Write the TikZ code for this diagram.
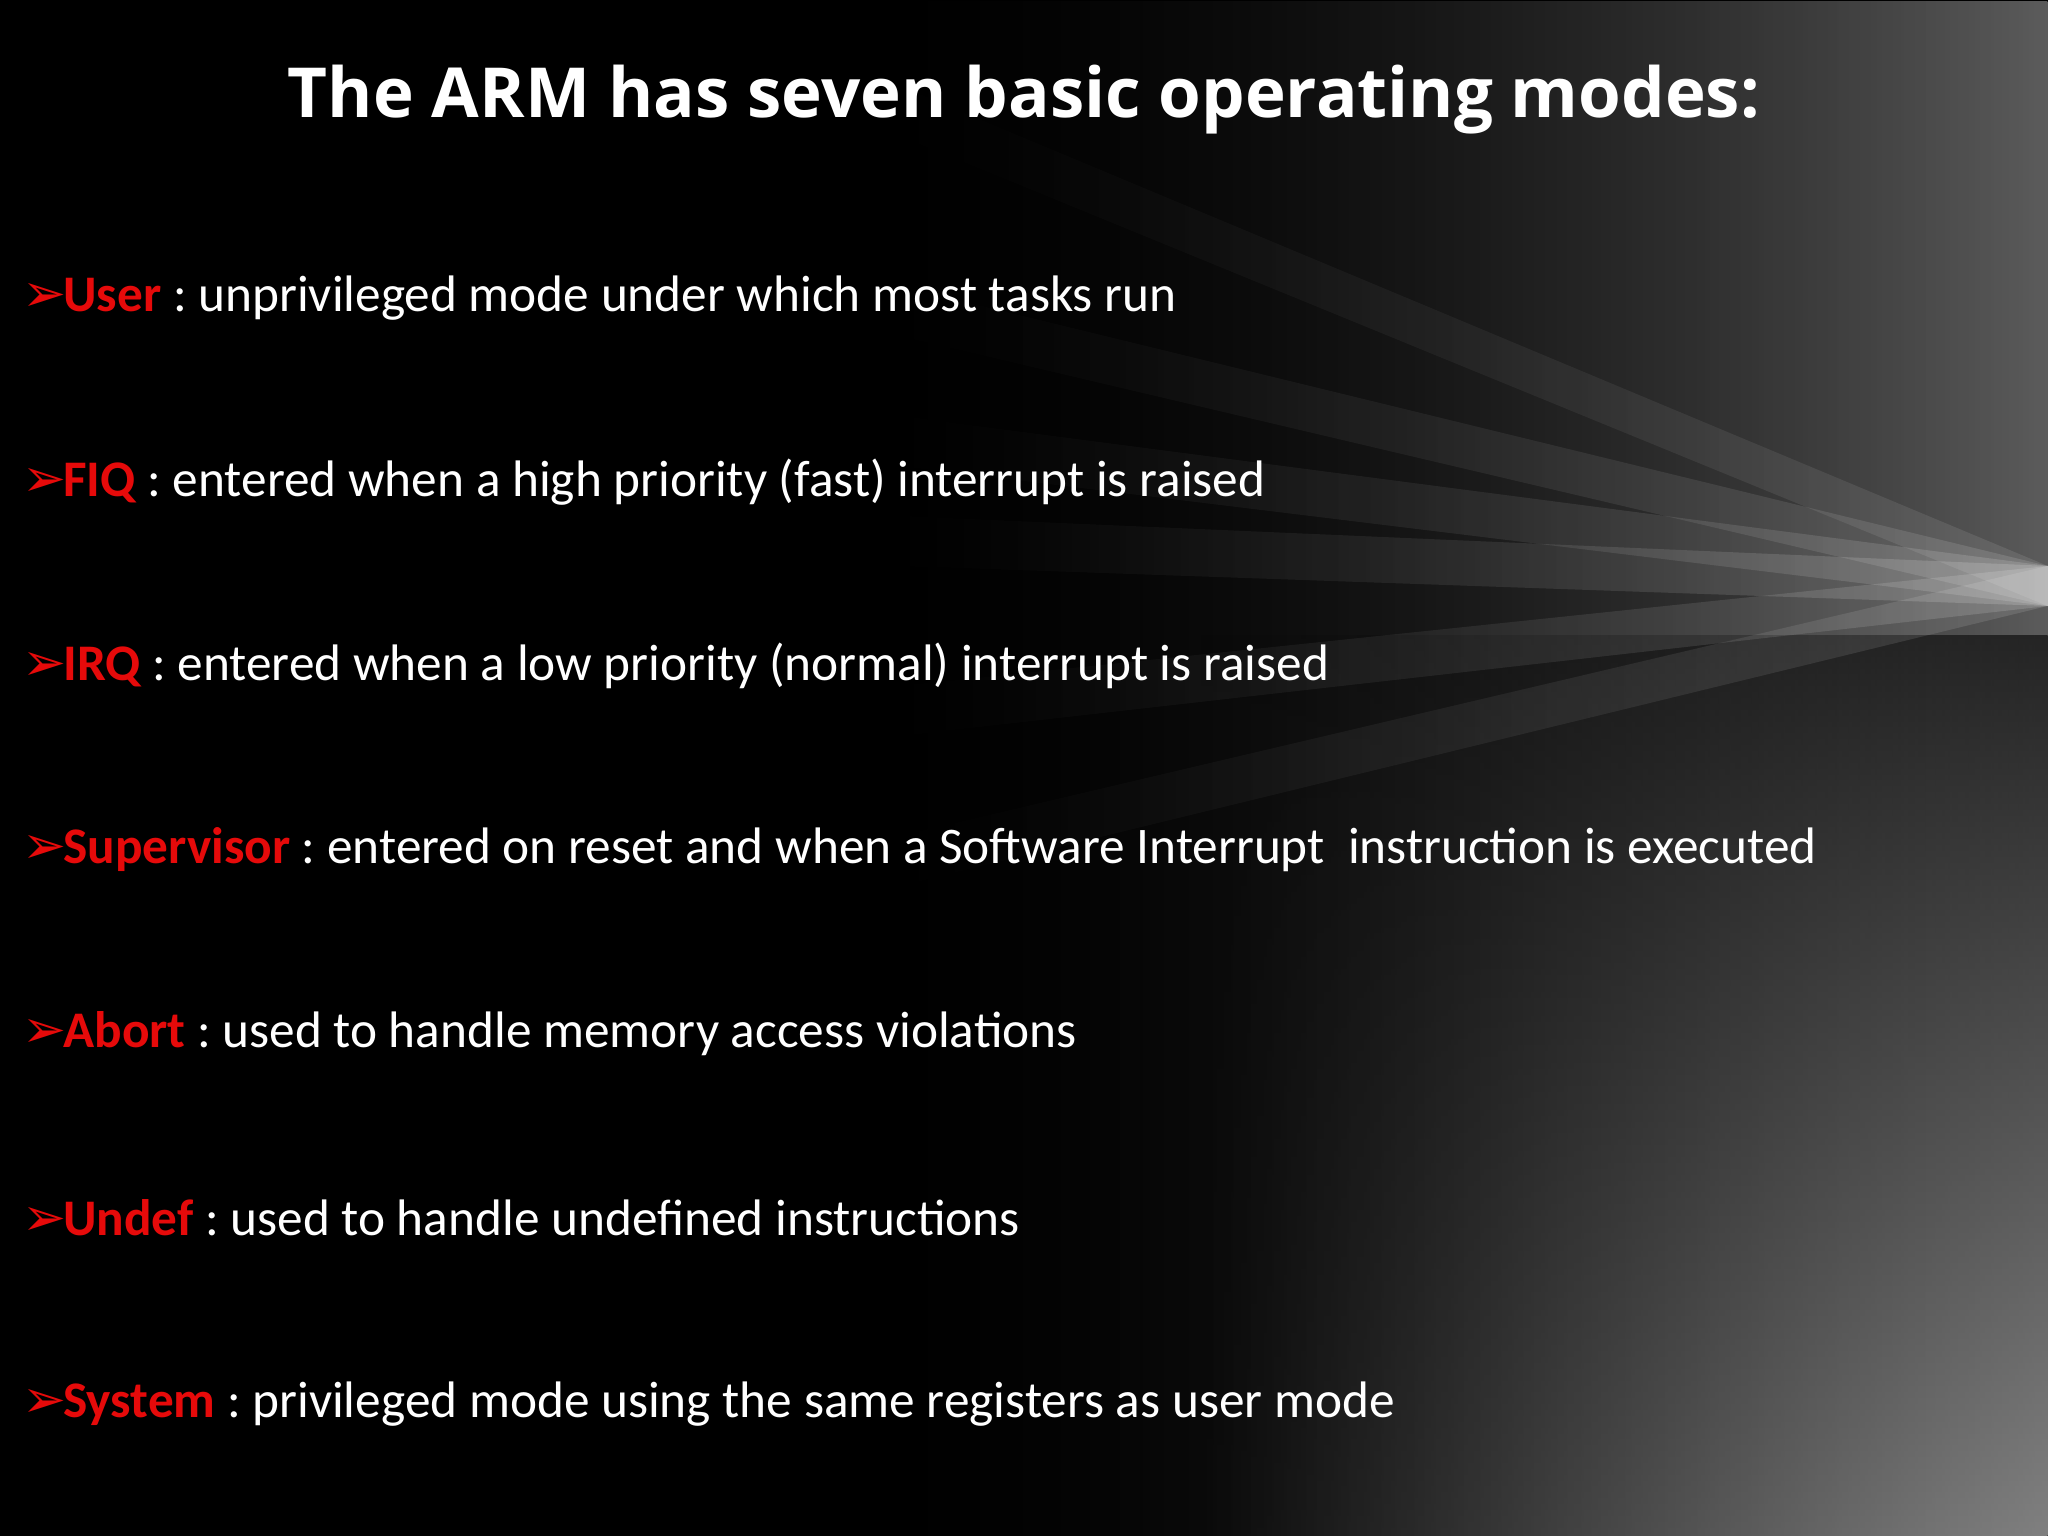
\documentclass[tikz,border=0pt]{standalone}
\usepackage{fontspec}
\setmainfont{Carlito}
\newfontfamily\titlefont{Open Sans}
\newfontfamily\symfont{DejaVu Sans}
\usetikzlibrary{fadings}
\definecolor{modered}{RGB}{230,10,10}
\tikzset{
  item/.style={anchor=west, text=white, font=\fontsize{14.6}{18}\selectfont, inner sep=0pt},
}
\newcommand{\mybul}{{\color{modered}\symfont\fontsize{15}{18}\selectfont ➢}\kern-1pt}
\begin{document}
\frenchspacing
\begin{tikzpicture}
\useasboundingbox (0,0) rectangle (20.48,15.36);
\fill[black] (0,0) rectangle (20.48,15.36);
% gray glow toward lower right
\shade[left color=black, right color=black!55!white, opacity=0.8, path fading=west] (8,0) rectangle (20.48,15.36);
\shade[top color=black, bottom color=black!40!white, opacity=0.6, path fading=west] (12,0) rectangle (20.48,9);
% streaks converging to right
\foreach \y/\o in {14.5/0.10, 12.5/0.13, 11.2/0.15, 10.2/0.17, 8.5/0.15, 7/0.12}{
  \fill[white, opacity=\o, path fading=west] (9,\y) -- (9,\y-0.5) -- (20.48,9.3) -- (20.48,9.7) -- cycle;
}
\node[text=white, font=\titlefont\bfseries] (title) at (10.24,14.36) {\resizebox{14.72cm}{!}{The ARM has seven basic operating modes:}};
\node[item] (u) at (0.22,12.38) {\mybul\textbf{\color{modered}User} : unprivileged mode under which most tasks run};
\node[item] (f) at (0.22,10.54) {\mybul\textbf{\color{modered}FIQ} : entered when a high priority (fast) interrupt is raised};
\node[item] (i) at (0.22,8.70) {\mybul\textbf{\color{modered}IRQ} : entered when a low priority (normal) interrupt is raised};
\node[item] (s) at (0.22,6.86) {\mybul\textbf{\color{modered}Supervisor} : entered on reset and when a Software Interrupt\ \ instruction is executed};
\node[item] (a) at (0.22,5.02) {\mybul\textbf{\color{modered}Abort} : used to handle memory access violations};
\node[item] (d) at (0.22,3.18) {\mybul\textbf{\color{modered}Undef} : used to handle undefined instructions};
\node[item] (y) at (0.22,1.32) {\mybul\textbf{\color{modered}System} : privileged mode using the same registers as user mode};
\end{tikzpicture}
\end{document}
